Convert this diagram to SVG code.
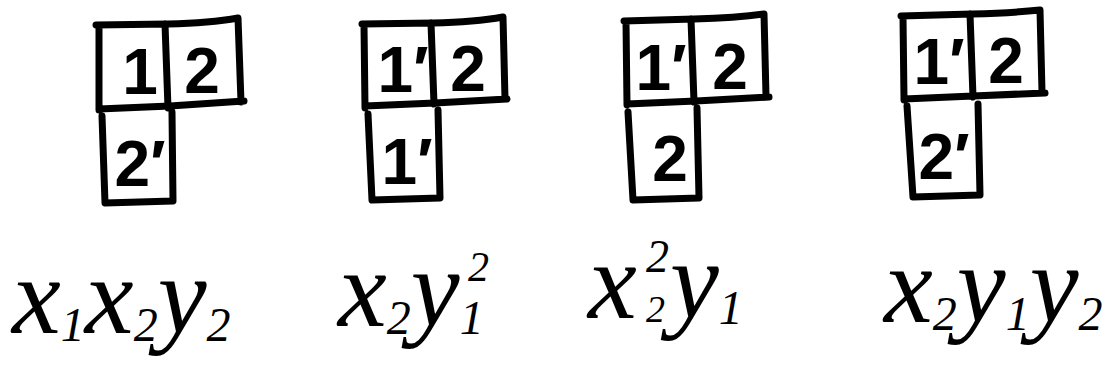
<svg xmlns="http://www.w3.org/2000/svg" width="1114" height="382" viewBox="0 0 1114 382">
<style>
.b{fill:none;stroke:#000;stroke-width:7;stroke-linecap:round;stroke-linejoin:round}
.n{font-family:"Liberation Sans",sans-serif;font-size:64px;font-weight:bold;fill:#000;text-anchor:middle}
.m{font-family:"Liberation Serif",serif;font-style:italic;font-size:110px;fill:#000}
.s{font-size:48px}
.p{font-family:"Liberation Serif",serif;font-style:italic;font-size:42px;fill:#000}
</style>
<rect width="1114" height="382" fill="#fff"/>
<g id="t1">
<path class="b" d="M96,25 L168,24 Q210,23 238,18 L241,102 M99,26 L99,110 M99,109 L170,106 L244,101 M165,24 L168,108 M102,116 L105,203 L173,201 L172,112"/>
<text class="n" x="140" y="94">1</text><text class="n" x="202" y="93">2</text><text class="n" x="140" y="186">2′</text>
</g>
<g id="t2">
<path class="b" d="M362,24 L433,23 Q475,22 503,17 L505,99 M364,25 L365,108 M365,106 L435,103 L507,99 M431,23 L434,104 M368,114 L372,200 L440,198 L438,110"/>
<text class="n" x="403" y="92">1′</text><text class="n" x="468" y="91">2</text><text class="n" x="407" y="184">1′</text>
</g>
<g id="t3">
<path class="b" d="M624,21 L694,19 Q736,18 764,14 L766,96 M626,22 L627,105 M627,104 L696,101 L769,97 M691,19 L694,102 M628,112 L633,200 L699,198 L697,108"/>
<text class="n" x="661" y="90">1′</text><text class="n" x="730" y="89">2</text><text class="n" x="670" y="181">2</text>
</g>
<g id="t4">
<path class="b" d="M901,16 L972,14 Q1012,13 1040,10 L1042,92 M903,17 L904,100 M904,99 L973,96 L1045,93 M970,14 L973,97 M907,106 L913,197 L980,195 L978,104"/>
<text class="n" x="939" y="84">1′</text><text class="n" x="1006" y="83">2</text><text class="n" x="944" y="179">2′</text>
</g>
<g id="labels">
<text class="m" x="12" y="333">x<tspan class="s" dy="8">1</tspan><tspan dy="-8">x</tspan><tspan class="s" dy="8">2</tspan><tspan dy="-8">y</tspan><tspan class="s" dy="8">2</tspan></text>
<text class="m" x="338" y="326">x<tspan class="s" dy="8">2</tspan><tspan dy="-8">y</tspan><tspan class="s" dy="8">1</tspan></text>
<text class="p" x="468" y="281">2</text>
<text class="m" x="588" y="318">x</text>
<text class="p" style="font-size:38px" x="646" y="322">2</text>
<text class="p" style="font-size:46px" x="646" y="272">2</text>
<text class="m" x="670" y="318">y<tspan class="s" dy="6">1</tspan></text>
<text class="m" x="884" y="322">x<tspan class="s" dy="8">2</tspan><tspan dy="-8">y</tspan><tspan class="s" dy="8">1</tspan><tspan dy="-8">y</tspan><tspan class="s" dy="8">2</tspan></text>
</g>
</svg>
